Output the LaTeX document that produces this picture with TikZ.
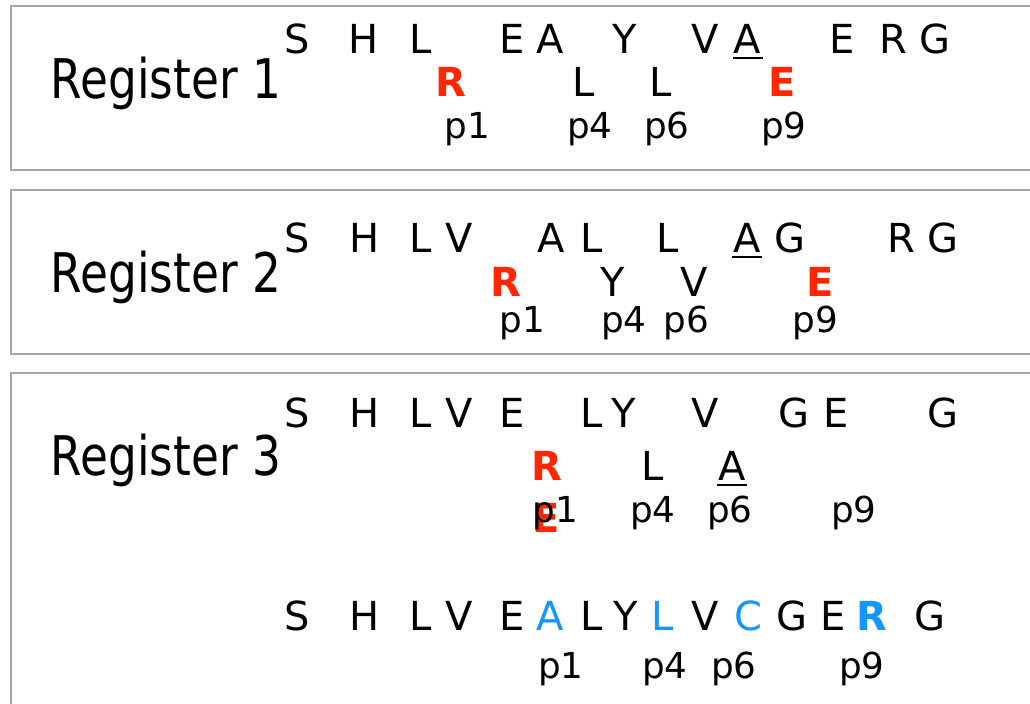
\documentclass[tikz,border=0pt]{standalone}
\usepackage{fontspec}
\setmainfont{DejaVu Sans}
\newfontfamily\regfont{DejaVu Sans}[FakeStretch=0.83]
\definecolor{myred}{RGB}{255,38,0}
\definecolor{myblue}{RGB}{20,150,255}
\definecolor{bordergray}{RGB}{166,166,166}
\tikzset{
  boxframe/.style={draw=bordergray, line width=1.5pt},
  reg/.style={anchor=base west, inner sep=0, font=\regfont\fontsize{41pt}{48pt}\selectfont},
  aa/.style={anchor=base, inner sep=0, font=\fontsize{30pt}{36pt}\selectfont},
  hl/.style={aa, text=myred, font=\fontsize{30pt}{36pt}\selectfont\bfseries},
  bl/.style={aa, text=myblue},
  blb/.style={aa, text=myblue, font=\fontsize{30pt}{36pt}\selectfont\bfseries},
  pl/.style={anchor=base, inner sep=0, font=\fontsize{26.8pt}{32pt}\selectfont},
  uline/.style={line width=1.5pt, black}
}
\newcommand{\ul}[1]{\draw[uline] ([xshift=-11.25pt,yshift=-3.4pt]#1.base) -- ([xshift=11.25pt,yshift=-3.4pt]#1.base);}
\begin{document}
\begin{tikzpicture}[x=0.75pt,y=-0.75pt]
\useasboundingbox (0,0) rectangle (1030,703);
% frames
\draw[boxframe] (1045,6) -- (11,6) -- (11,170) -- (1045,170);
\draw[boxframe] (1045,190) -- (11,190) -- (11,354) -- (1045,354);
\draw[boxframe] (1045,373) -- (11,373) -- (11,715);
% register labels
\node[reg] (reg1) at (50.7,98) {Register 1};
\node[reg] (reg2) at (50.7,292) {Register 2};
\node[reg] (reg3) at (50.7,475) {Register 3};
% ---------- Register 1 ----------
\foreach \x/\c [count=\i] in {297.5/S,364/H,420.7/L,511.7/E,550.3/A,625/Y,705/V,747.5/A,841.7/E,893/R,935/G}
  \node[aa] (a1t\i) at (\x,53) {\c};
\ul{a1t8}
\node[hl] (a1r) at (451,96) {R};
\node[aa] (a1l1) at (584,96) {L};
\node[aa] (a1l2) at (660.3,96) {L};
\node[hl] (a1e) at (782,96) {E};
\node[pl] (a1p1) at (467.3,138) {p1};
\node[pl] (a1p4) at (590,138) {p4};
\node[pl] (a1p6) at (667,138) {p6};
\node[pl] (a1p9) at (783.7,138) {p9};
% ---------- Register 2 ----------
\foreach \x/\c [count=\i] in {297.5/S,365/H,420.5/L,459.3/V,551/A,592/L,667.8/L,747/A,790/G,901.7/R,942.7/G}
  \node[aa] (a2t\i) at (\x,252) {\c};
\ul{a2t8}
\node[hl] (a2r) at (506.3,296) {R};
\node[aa] (a2y) at (612.3,296) {Y};
\node[aa] (a2v) at (694.5,296) {V};
\node[hl] (a2e) at (820,296) {E};
\node[pl] (a2p1) at (522.3,332) {p1};
\node[pl] (a2p4) at (624,332) {p4};
\node[pl] (a2p6) at (686.2,332) {p6};
\node[pl] (a2p9) at (815.3,332) {p9};
% ---------- Register 3 ----------
\foreach \x/\c [count=\i] in {297.5/S,365/H,420.5/L,459.3/V,511.7/E,591.7/L,624/Y,705.5/V,793.7/G,835.8/E,942.7/G}
  \node[aa] (a3t\i) at (\x,427) {\c};
\node[hl] (a3r) at (547.2,480) {R};
\node[aa] (a3l) at (653,480) {L};
\node[aa] (a3a) at (732.2,480) {A};
\ul{a3a}
\node[hl] (a3e) at (545.7,532) {E};
\node[pl] (a3p1) at (555.5,522) {p1};
\node[pl] (a3p4) at (652.8,522) {p4};
\node[pl] (a3p6) at (730,522) {p6};
\node[pl] (a3p9) at (853.8,522) {p9};
% bottom sequence
\foreach \x/\c [count=\i] in {297.5/S,365/H,420.5/L,459.3/V,511.7/E,591.7/L,626/Y,705/V,792/G,833/E,930/G}
  \node[aa] (a4t\i) at (\x,630) {\c};
\node[bl] (a4a) at (550.3,630) {A};
\node[bl] (a4l) at (663,630) {L};
\node[bl] (a4c) at (748,630) {C};
\node[blb] (a4r) at (872,630) {R};
\node[pl] (a4p1) at (561,678) {p1};
\node[pl] (a4p4) at (665,678) {p4};
\node[pl] (a4p6) at (734,678) {p6};
\node[pl] (a4p9) at (862,678) {p9};
\end{tikzpicture}
\end{document}
